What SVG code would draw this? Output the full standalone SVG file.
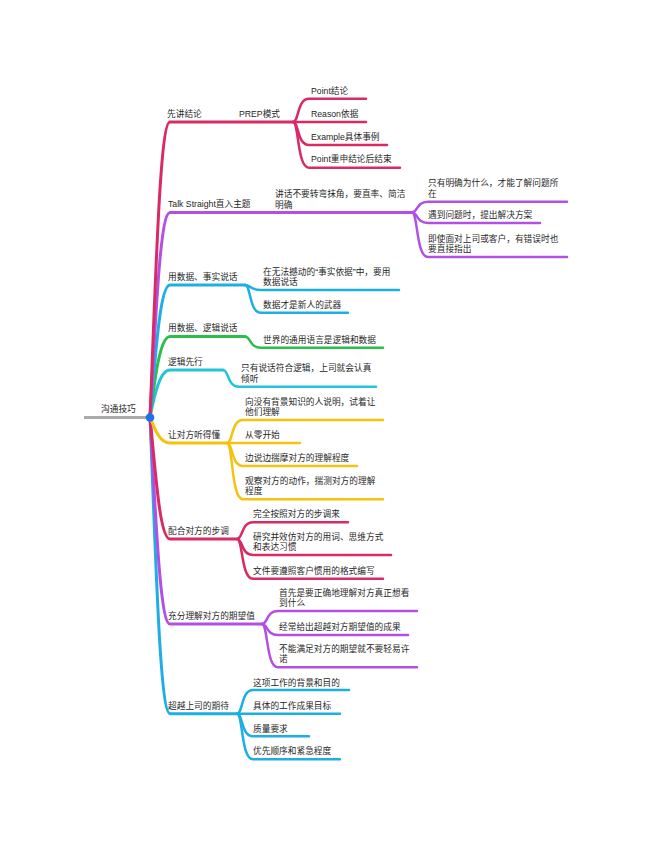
<svg xmlns="http://www.w3.org/2000/svg" width="650" height="853" viewBox="0 0 650 853">
<style>
text{font-family:"Liberation Sans","Noto Sans CJK SC",sans-serif;font-size:8.7px;fill:#1f1f1f}
.l1{fill:none;stroke-width:3;stroke-linecap:round}
.l2{fill:none;stroke-width:2.5;stroke-linecap:round}
.red{stroke:#d82a63}
.pur{stroke:#b34fe3}
.blu{stroke:#1eaee6}
.grn{stroke:#2dbd4c}
.cyn{stroke:#22c5d8}
.yel{stroke:#f5c20f}
</style>
<rect width="650" height="853" fill="#fff"/>
<g id="connectors">
<path class="l1 blu" d="M150,417 C156,565 160,713.7 170,713.7 L237,713.7"/>
<path class="l1 pur" d="M150,417 C156,520 160,624 170,624 L262,624"/>
<path class="l1 red" d="M150,417 C156,478 160,539 170,539 L237,539"/>
<path class="l1 yel" d="M150,417 C155,430 160,443 170,443 L227,443"/>
<path class="l1 cyn" d="M150,417 C155,393 160,370 170,370 L223,370"/>
<path class="l1 grn" d="M150,417 C155,377 160,336.5 170,336.5 L245,336.5"/>
<path class="l1 blu" d="M150,417 C156,351 160,285 170,285 L245,285"/>
<path class="l1 pur" d="M150,417 C156,315 160,212.5 170,212.5 L412,212.5"/>
<path class="l1 red" d="M150,417 C156,270 160,122 170,122 L293,122"/>
<path d="M84,417.5 L150,417.5" fill="none" stroke="#aaa" stroke-width="3"/>
<path class="l2 red" d="M293,122 C299,122 297,98.7 309,98.7 L366,98.7"/>
<path class="l2 red" d="M293,122 L366,122"/>
<path class="l2 red" d="M293,122 C299,122 297,145 309,145 L387,145"/>
<path class="l2 red" d="M293,122 C299,122 297,167.7 309,167.7 L400,167.7"/>
<path class="l2 pur" d="M412,212.5 C418,212.5 416,201.7 428,201.7 L567,201.7"/>
<path class="l2 pur" d="M412,212.5 C418,212.5 416,223 428,223 L540,223"/>
<path class="l2 pur" d="M412,212.5 C418,212.5 416,257 428,257 L567,257"/>
<path class="l2 blu" d="M245,285 C251,285 249,290 261,290 L399,290"/>
<path class="l2 blu" d="M245,285 C251,285 249,312.7 261,312.7 L348,312.7"/>
<path class="l2 grn" d="M245,336.5 C251,336.5 249,347.7 261,347.7 L383,347.7"/>
<path class="l2 cyn" d="M223,370 C229,370 227,386.7 239,386.7 L376,386.7"/>
<path class="l2 yel" d="M227,443 C233,443 231,420 243,420 L383,420"/>
<path class="l2 yel" d="M227,443 L300,443"/>
<path class="l2 yel" d="M227,443 C233,443 231,466 243,466 L357,466"/>
<path class="l2 yel" d="M227,443 C233,443 231,499.3 243,499.3 L383,499.3"/>
<path class="l2 red" d="M237,539 C243,539 241,522.3 253,522.3 L348,522.3"/>
<path class="l2 red" d="M237,539 C243,539 241,555 253,555 L391,555"/>
<path class="l2 red" d="M237,539 C243,539 241,578.7 253,578.7 L383,578.7"/>
<path class="l2 pur" d="M262,624 C268,624 266,611 278,611 L417,611"/>
<path class="l2 pur" d="M262,624 C268,624 266,635 278,635 L408,635"/>
<path class="l2 pur" d="M262,624 C268,624 266,667.3 278,667.3 L417,667.3"/>
<path class="l2 blu" d="M237,713.7 C243,713.7 241,690 253,690 L349,690"/>
<path class="l2 blu" d="M237,713.7 L340,713.7"/>
<path class="l2 blu" d="M237,713.7 C243,713.7 241,736.3 253,736.3 L309,736.3"/>
<path class="l2 blu" d="M237,713.7 C243,713.7 241,759.3 253,759.3 L340,759.3"/>
</g>
<g id="root"><circle cx="150" cy="417.5" r="4.3" fill="#1a73e8"/><text x="101" y="412">沟通技巧</text></g>
<g id="b1"><text x="167" y="116.5">先讲结论</text></g>
<g id="b1-1"><text x="239" y="116.5">PREP模式</text></g>
<g id="b1-1-1"><text x="311" y="94">Point结论</text></g>
<g id="b1-1-2"><text x="311" y="117">Reason依据</text></g>
<g id="b1-1-3"><text x="311" y="139.7">Example具体事例</text></g>
<g id="b1-1-4"><text x="311" y="162.3">Point重申结论后结束</text></g>
<g id="b2"><text x="168" y="207">Talk Straight直入主题</text></g>
<g id="b2-1"><text x="275" y="197">讲话不要转弯抹角，要直率、简洁</text><text x="275" y="207.5">明确</text></g>
<g id="b2-1-1"><text x="428" y="186">只有明确为什么，才能了解问题所</text><text x="428" y="196.5">在</text></g>
<g id="b2-1-2"><text x="428" y="218">遇到问题时，提出解决方案</text></g>
<g id="b2-1-3"><text x="428" y="241.5">即使面对上司或客户，有错误时也</text><text x="428" y="252">要直接指出</text></g>
<g id="b3"><text x="168" y="280">用数据、事实说话</text></g>
<g id="b3-1"><text x="263" y="274.5">在无法撼动的“事实依据”中，要用</text><text x="263" y="285">数据说话</text></g>
<g id="b3-2"><text x="263" y="307.5">数据才是新人的武器</text></g>
<g id="b4"><text x="168" y="331">用数据、逻辑说话</text></g>
<g id="b4-1"><text x="263" y="342.5">世界的通用语言是逻辑和数据</text></g>
<g id="b5"><text x="168" y="365">逻辑先行</text></g>
<g id="b5-1"><text x="241" y="371">只有说话符合逻辑，上司就会认真</text><text x="241" y="381.5">倾听</text></g>
<g id="b6"><text x="168" y="438">让对方听得懂</text></g>
<g id="b6-1"><text x="245" y="404.5">向没有背景知识的人说明，试着让</text><text x="245" y="415">他们理解</text></g>
<g id="b6-2"><text x="245" y="438">从零开始</text></g>
<g id="b6-3"><text x="245" y="461">边说边揣摩对方的理解程度</text></g>
<g id="b6-4"><text x="245" y="483.5">观察对方的动作，揣测对方的理解</text><text x="245" y="494">程度</text></g>
<g id="b7"><text x="168" y="534">配合对方的步调</text></g>
<g id="b7-1"><text x="253" y="517">完全按照对方的步调来</text></g>
<g id="b7-2"><text x="253" y="539.5">研究并效仿对方的用词、思维方式</text><text x="253" y="550">和表达习惯</text></g>
<g id="b7-3"><text x="253" y="574">文件要遵照客户惯用的格式编写</text></g>
<g id="b8"><text x="168" y="619">充分理解对方的期望值</text></g>
<g id="b8-1"><text x="279" y="595.5">首先是要正确地理解对方真正想看</text><text x="279" y="606">到什么</text></g>
<g id="b8-2"><text x="279" y="630">经常给出超越对方期望值的成果</text></g>
<g id="b8-3"><text x="279" y="651.5">不能满足对方的期望就不要轻易许</text><text x="279" y="662">诺</text></g>
<g id="b9"><text x="168" y="709">超越上司的期待</text></g>
<g id="b9-1"><text x="253" y="685.5">这项工作的背景和目的</text></g>
<g id="b9-2"><text x="253" y="709">具体的工作成果目标</text></g>
<g id="b9-3"><text x="253" y="731.5">质量要求</text></g>
<g id="b9-4"><text x="253" y="754">优先顺序和紧急程度</text></g>
</svg>
